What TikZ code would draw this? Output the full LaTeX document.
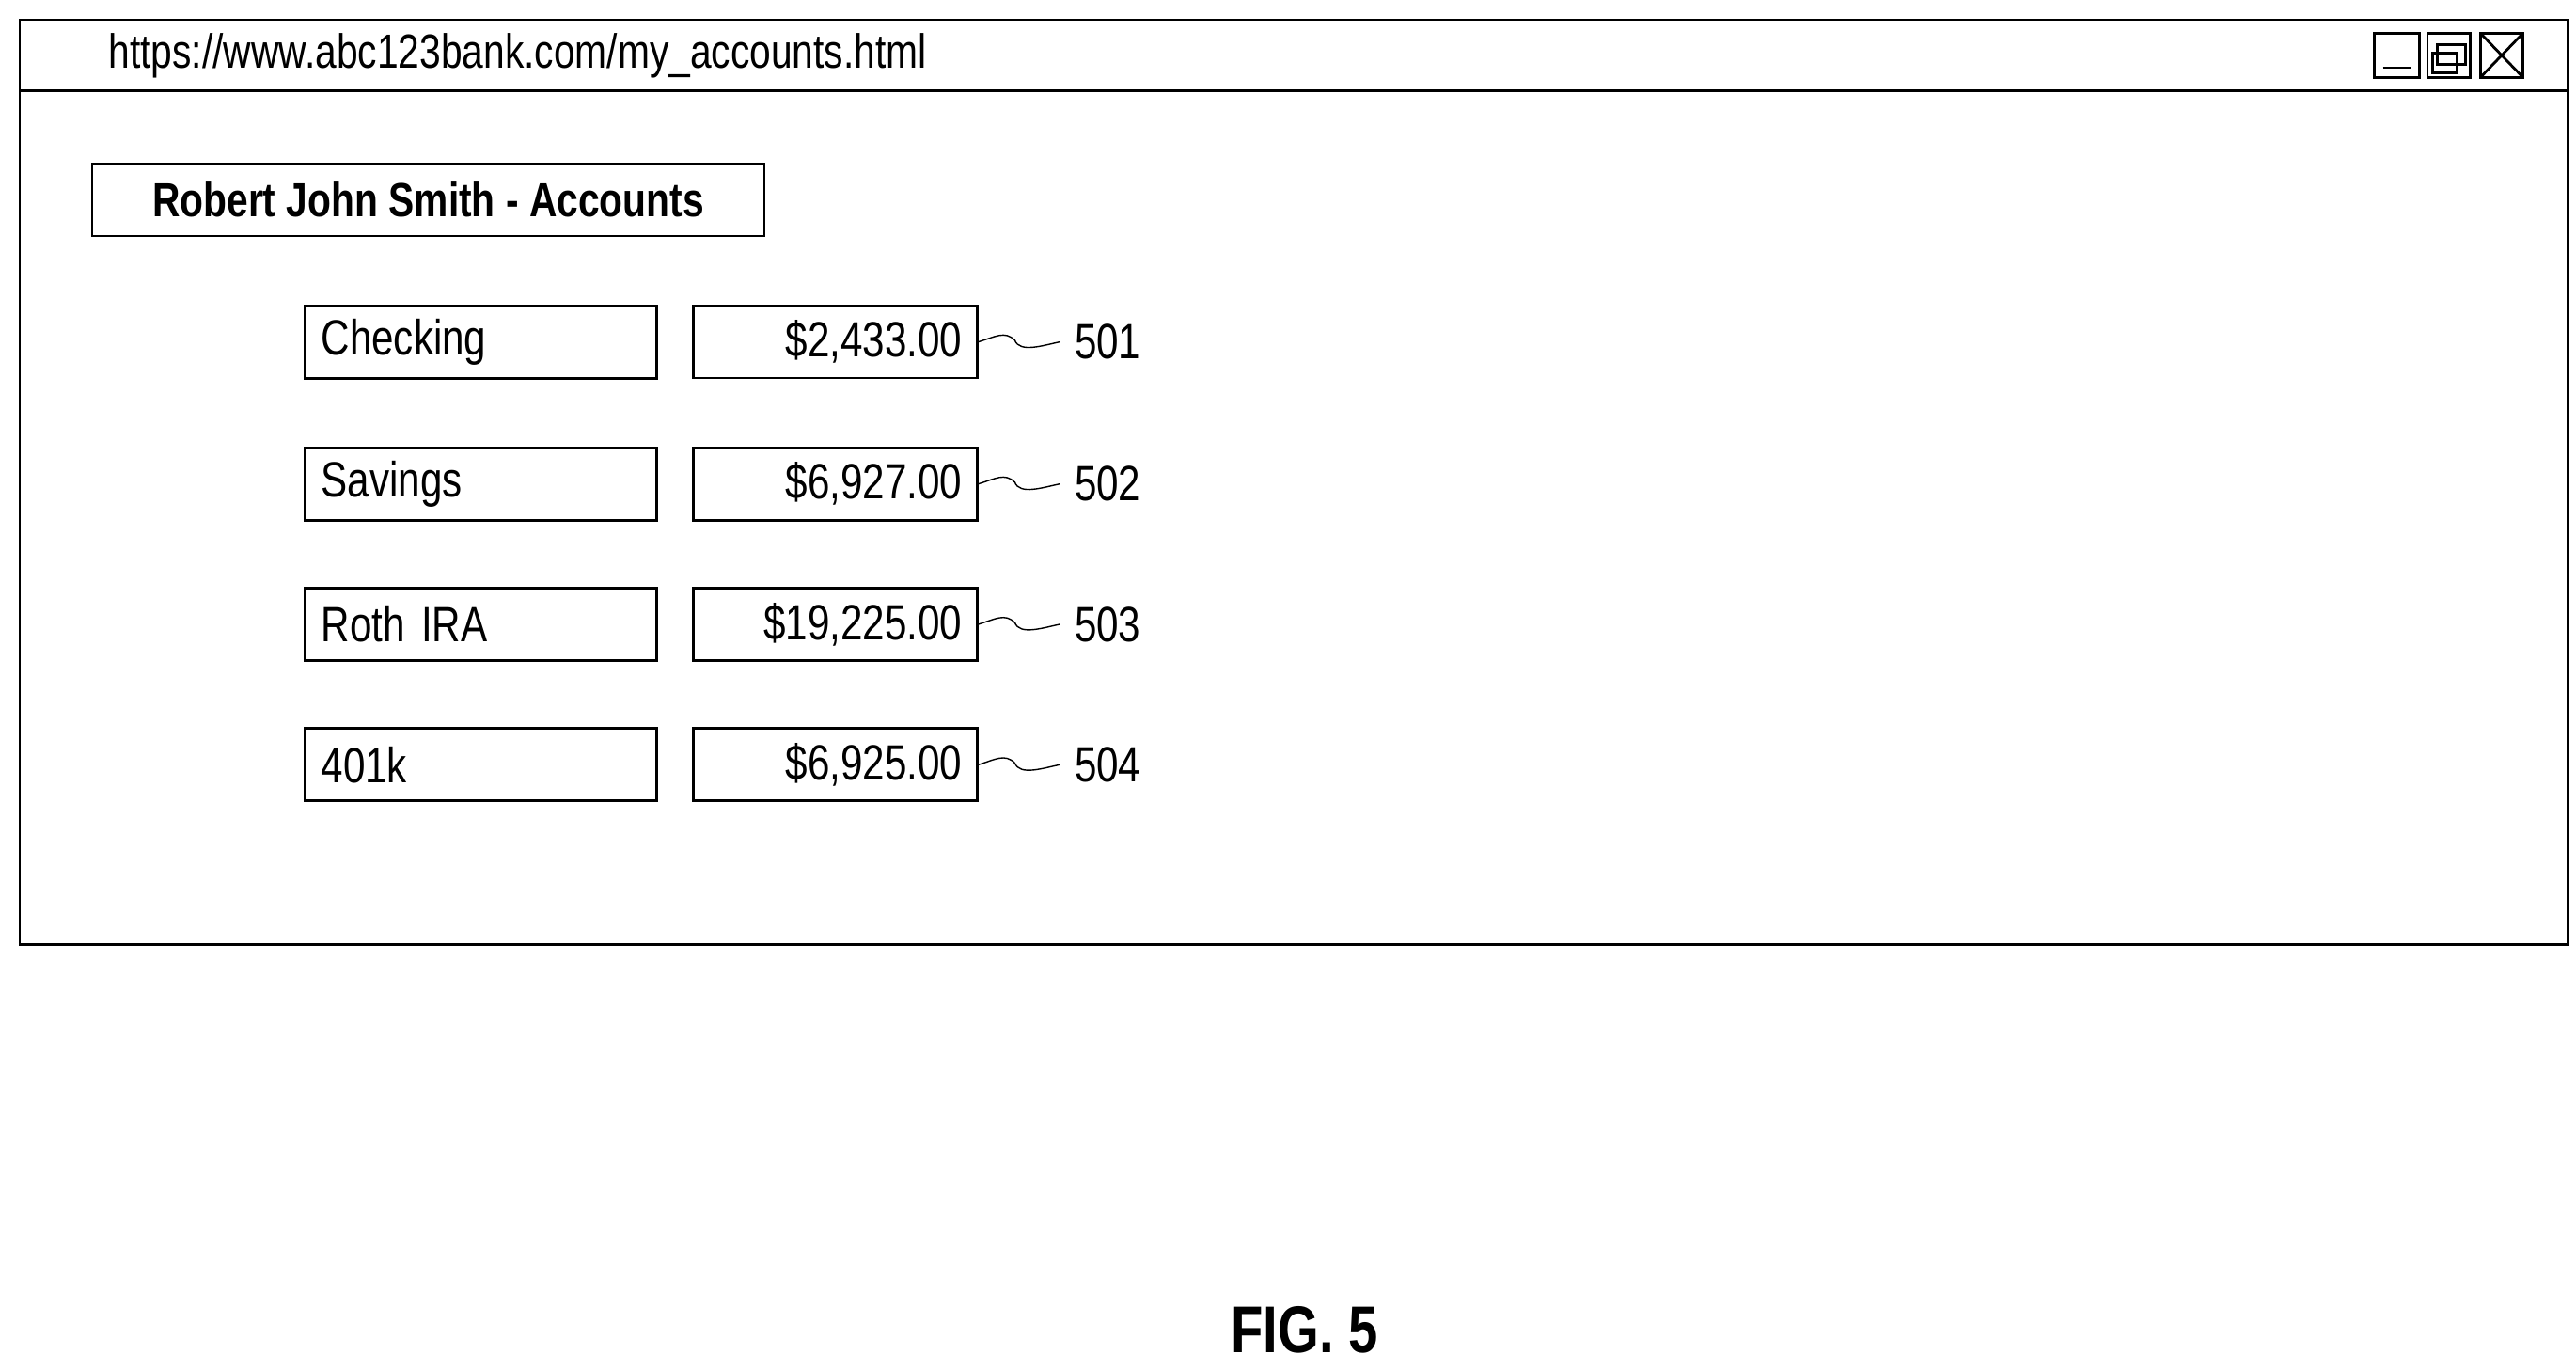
\documentclass[tikz,border=0pt]{standalone}
\usepackage{fontspec}
\setmainfont[FakeStretch=0.8]{Liberation Sans}
\usetikzlibrary{positioning}

\begin{document}
\begin{tikzpicture}[x=0.01756cm,y=-0.01756cm,thick,
box/.style={draw,minimum height=0.77cm,inner sep=4pt,font=\fontsize{15}{17}\selectfont},
namebox/.style={box,minimum width=3.74cm,anchor=west,text width=3.4cm,align=left},
valbox/.style={box,minimum width=3.02cm,anchor=west,text width=2.7cm,align=right},
refnum/.style={font=\fontsize{15}{17}\selectfont,anchor=west,inner sep=0pt},
lead/.style={thin}]
\useasboundingbox (0,0) rectangle (1560,829);

% browser window
\draw (12,12) rectangle (1555,572);
\draw (12,55) -- (1555,55);
\node[anchor=west,inner sep=0pt,font=\fontsize{14.5}{16}\selectfont] (url) at (65,34) {https://www.abc123bank.com/my\_accounts.html};
\draw (1438,20) rectangle (1465,47);
\draw (1443,41) -- (1460,41);
\draw (1470,20) rectangle (1496,47);
\draw (1476,27) rectangle (1493,39);
\draw (1473,32) rectangle (1488,44);
\draw (1502,20) rectangle (1528,47);
\draw (1502,20) -- (1528,47) (1528,20) -- (1502,47);

\node[draw,minimum width=7.15cm,minimum height=0.77cm,anchor=west,font=\bfseries\fontsize{14.5}{17}\selectfont] (title) at (55,121) {Robert John Smith - Accounts};

\foreach \name/\val/\num/\y in {Checking/{\$2,433.00}/501/207,Savings/{\$6,927.00}/502/293,Roth IRA/{\$19,225.00}/503/378,401k/{\$6,925.00}/504/463}{
  \node[namebox] (n\num) at (184,\y) {\name};
  \node[valbox] (v\num) at (419,\y) {\val};
  \node[refnum] (r\num) at (650,\y) {\num};
  \draw[lead] (v\num.east) .. controls +(10,-3) and +(-6,-6) .. ++(22,-1)
    .. controls +(3,8) and +(-10,2) .. ([xshift=-4pt]r\num.west);
}

\node[font=\bfseries\fontsize{20}{22}\selectfont] (fig) at (790,805) {FIG. 5};
\end{tikzpicture}
\end{document}
